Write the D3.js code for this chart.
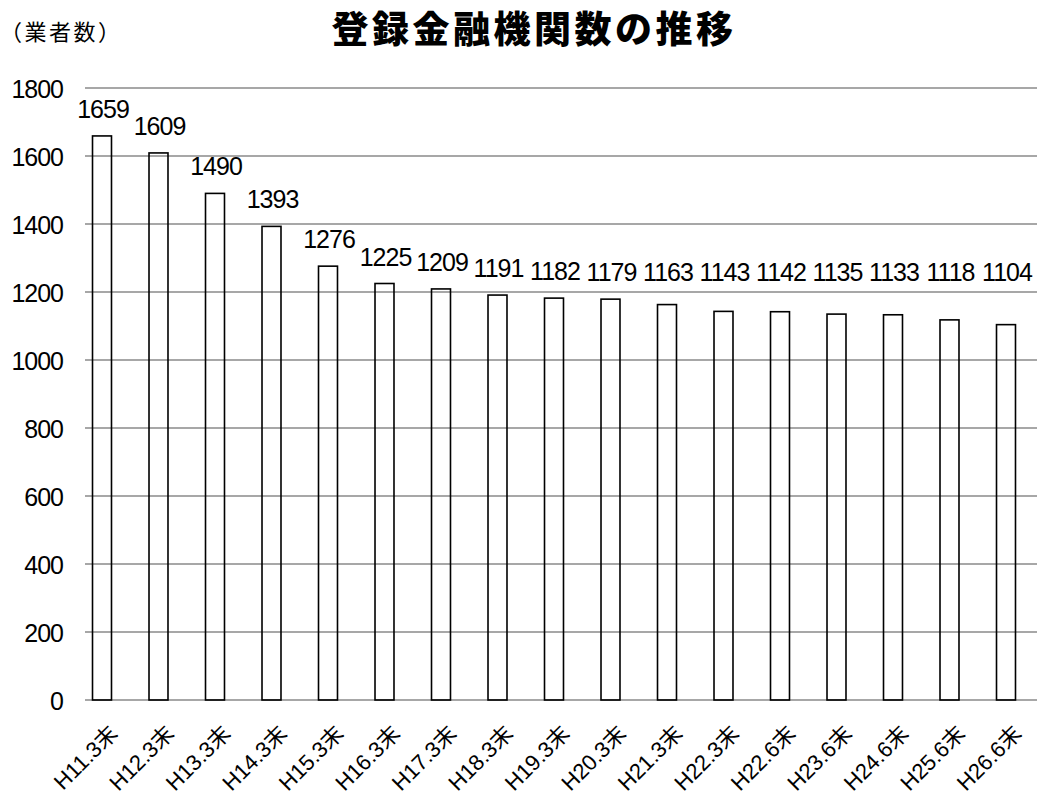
<!DOCTYPE html>
<html lang="ja">
<head>
<meta charset="utf-8">
<script src="https://cdn.jsdelivr.net/npm/d3@7"></script>
<style>
  html, body { margin: 0; padding: 0; background: #fff; }
  svg { display: block; }
  .num { font-family: "Liberation Sans", Arial, sans-serif; font-size: 25px; letter-spacing: -1px; fill: #000; }
  .cat { font-family: "Liberation Sans", "Noto Sans CJK JP", sans-serif; font-size: 22px; fill: #000; }
</style>
</head>
<body>
<svg id="chart" width="1039" height="796"></svg>
<script>
// Registered financial institutions, count at each period end
const categories = ["H11.3末", "H12.3末", "H13.3末", "H14.3末", "H15.3末", "H16.3末",
  "H17.3末", "H18.3末", "H19.3末", "H20.3末", "H21.3末", "H22.3末", "H22.6末",
  "H23.6末", "H24.6末", "H25.6末", "H26.6末"];
const counts = [1659, 1609, 1490, 1393, 1276, 1225, 1209, 1191, 1182, 1179, 1163,
  1143, 1142, 1135, 1133, 1118, 1104];
const yTicks = [0, 200, 400, 600, 800, 1000, 1200, 1400, 1600, 1800];
const titleText = "登録金融機関数の推移";
const unitText = "（業者数）";

const svg = d3.select("#chart");

const x = d3.scaleBand()
  .domain(categories)
  .range([73.75, 1034.25])
  .paddingInner(0.664)
  .paddingOuter(0.332);

const y = d3.scaleLinear().domain([0, 1800]).range([700, 88]);

// horizontal gridlines
svg.append("g")
  .selectAll("line")
  .data(yTicks)
  .join("line")
  .attr("x1", 85).attr("x2", 1037)
  .attr("y1", d => y(d)).attr("y2", d => y(d))
  .attr("stroke", "#8a8a8a")
  .attr("stroke-width", 1.6);

// y-axis labels
const yAxis = d3.axisLeft(y).tickValues(yTicks).tickSize(0).tickPadding(0).tickFormat(d3.format("d"));
const yg = svg.append("g").attr("transform", "translate(63,0)").call(yAxis);
yg.select(".domain").remove();
yg.selectAll("text")
  .attr("class", "num")
  .attr("font-family", null).attr("font-size", null)
  .attr("dy", "0.36em");

// bars (outline only)
svg.append("g")
  .selectAll("rect")
  .data(counts)
  .join("rect")
  .attr("x", (d, i) => x(categories[i]))
  .attr("y", d => y(d))
  .attr("width", x.bandwidth())
  .attr("height", d => y(0) - y(d))
  .attr("fill", "none")
  .attr("stroke", "#000")
  .attr("stroke-width", 1.6);

// value labels above the bars, kept in one row once the bars get short
svg.append("g")
  .selectAll("text")
  .data(counts)
  .join("text")
  .attr("class", "num")
  .attr("text-anchor", "middle")
  .attr("x", (d, i) => x(categories[i]) + x.bandwidth() / 2 + 1)
  .attr("y", d => Math.min(y(d), y(1180)) - 18)
  .text(d => d);

// category labels, rotated
const xAxis = d3.axisBottom(x).tickSize(0).tickPadding(0);
const xg = svg.append("g").attr("transform", "translate(0,700)").call(xAxis);
xg.select(".domain").remove();
xg.selectAll("text")
  .attr("class", "cat")
  .attr("font-family", null).attr("font-size", null)
  .attr("text-anchor", "end")
  .attr("dy", null)
  .attr("y", 0)
  .attr("transform", "translate(17,35) rotate(-45)");

// title and unit
svg.append("text")
  .attr("x", 534).attr("y", 43)
  .attr("text-anchor", "middle")
  .attr("font-family", "'Noto Sans CJK JP', sans-serif")
  .attr("font-weight", 900)
  .attr("font-size", 37)
  .attr("letter-spacing", "3.5px")
  .text(titleText);

svg.append("text")
  .attr("x", 0).attr("y", 40)
  .attr("font-family", "'Noto Sans CJK JP', sans-serif")
  .attr("font-size", 22)
  .attr("letter-spacing", "2.5px")
  .text(unitText);
</script>
</body>
</html>
